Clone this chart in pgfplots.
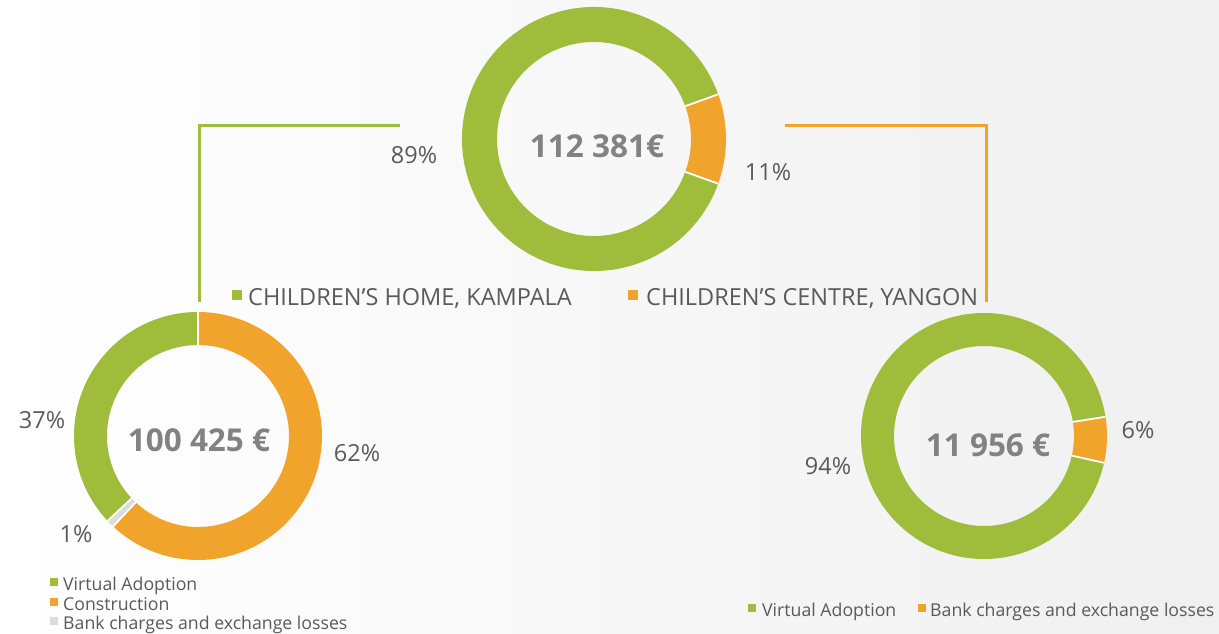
\documentclass[border=0pt]{standalone}
\usepackage{pgfplots}
\pgfplotsset{compat=1.18}
\usepackage{fontspec}
\setmainfont{Open Sans}
\usetikzlibrary{calc}

\definecolor{cgreen}{HTML}{A0BC3B}
\definecolor{corange}{HTML}{F0A42C}
\definecolor{cgrey}{HTML}{DCDCDC}
\definecolor{ctext}{HTML}{5A5A5A}
\definecolor{cbig}{HTML}{828282}

% donut: centre x, centre y, outer radius, inner radius (all px), start angle, {percent/colour,...}
\newcommand{\donut}[6]{%
  \xdef\acc{#5}%
  \foreach \v/\c in {#6}{%
    \pgfmathsetmacro{\aend}{\acc+3.6*\v}%
    \fill[\c] ($(axis cs:#1,#2)+(\acc:#3pt)$) arc[start angle=\acc, end angle=\aend, radius=#3pt]
      -- ($(axis cs:#1,#2)+(\aend:#4pt)$) arc[start angle=\aend, end angle=\acc, radius=#4pt] -- cycle;
    \xdef\acc{\aend}%
  }%
  \xdef\acc{#5}%
  \foreach \v/\c in {#6}{%
    \pgfmathsetmacro{\aend}{\acc+3.6*\v}%
    \draw[white, line width=1.8pt] ($(axis cs:#1,#2)+(\acc:#4pt)$) -- ($(axis cs:#1,#2)+(\acc:#3pt)$);
    \xdef\acc{\aend}%
  }%
}

\tikzset{
  pct/.style={text=ctext, font=\fontsize{23.5}{28}\selectfont},
  big/.style={text=cbig, font=\fontsize{31.5}{36}\selectfont\bfseries},
  leg/.style={text=ctext, anchor=base west, inner sep=0pt, font=\fontsize{23.5}{28}\selectfont},
  sleg/.style={text=ctext, anchor=base west, inner sep=0pt, font=\fontsize{17.7}{21}\selectfont},
}

\begin{document}
\begin{tikzpicture}
\begin{axis}[
    name=main,
    x=1pt, y=1pt,
    scale only axis,
    xmin=0, xmax=1219,
    ymin=0, ymax=634,
    y dir=reverse,
    hide axis,
    clip=false,
]
% background
\shade[left color=white, right color=black!6] (axis cs:0,0) rectangle (axis cs:1219,634);

% connectors
\draw[cgreen, line width=3pt] (axis cs:400,125) -- (axis cs:199,125) -- (axis cs:199,302);
\draw[corange, line width=3pt] (axis cs:785,125) -- (axis cs:986,125) -- (axis cs:986,302);

% donuts
\pgfplotsextra{\donut{594}{139}{132}{97}{19.8}{89/cgreen, 11/corange}}
\pgfplotsextra{\donut{198}{436}{124}{91}{90}{37/cgreen, 1/cgrey, 62/corange}}
\pgfplotsextra{\donut{984}{436}{123}{90}{9}{94/cgreen, 6/corange}}

% centre totals
\node[big] at (axis cs:597,146) {112 381€};
\node[big] at (axis cs:199,440) {100 425 €};
\node[big] at (axis cs:988,445) {11 956 €};

% percentages
\node[pct] at (axis cs:414,155) {89\%};
\node[pct] at (axis cs:768,172) {11\%};
\node[pct] at (axis cs:42,420) {37\%};
\node[pct] at (axis cs:357,453) {62\%};
\node[pct] at (axis cs:76,534) {1\%};
\node[pct] at (axis cs:828,466) {94\%};
\node[pct] at (axis cs:1138,430) {6\%};

% top legend
\fill[cgreen] (axis cs:232,290) rectangle (axis cs:242,300);
\node[leg] at (axis cs:248,305) {CHILDREN\char"27 S HOME, KAMPALA};
\fill[corange] (axis cs:628,290) rectangle (axis cs:638,300);
\node[leg] at (axis cs:646,305) {CHILDREN\char"27 S CENTRE, YANGON};

% left legend
\fill[cgreen] (axis cs:50,578) rectangle (axis cs:58,586);
\node[sleg] at (axis cs:63,590) {Virtual Adoption};
\fill[corange] (axis cs:50,598) rectangle (axis cs:58,606);
\node[sleg] at (axis cs:63,610) {Construction};
\fill[cgrey] (axis cs:50,617) rectangle (axis cs:58,625);
\node[sleg] at (axis cs:63,629) {Bank charges and exchange losses};

% right legend
\fill[cgreen] (axis cs:748,604) rectangle (axis cs:756,612);
\node[sleg] at (axis cs:762,616) {Virtual Adoption};
\fill[corange] (axis cs:918,604) rectangle (axis cs:926,612);
\node[sleg] at (axis cs:930,616) {Bank charges and exchange losses};
\end{axis}
\pgfresetboundingbox
\path[use as bounding box] (main.south west) rectangle (main.north east);
\end{tikzpicture}
\end{document}
